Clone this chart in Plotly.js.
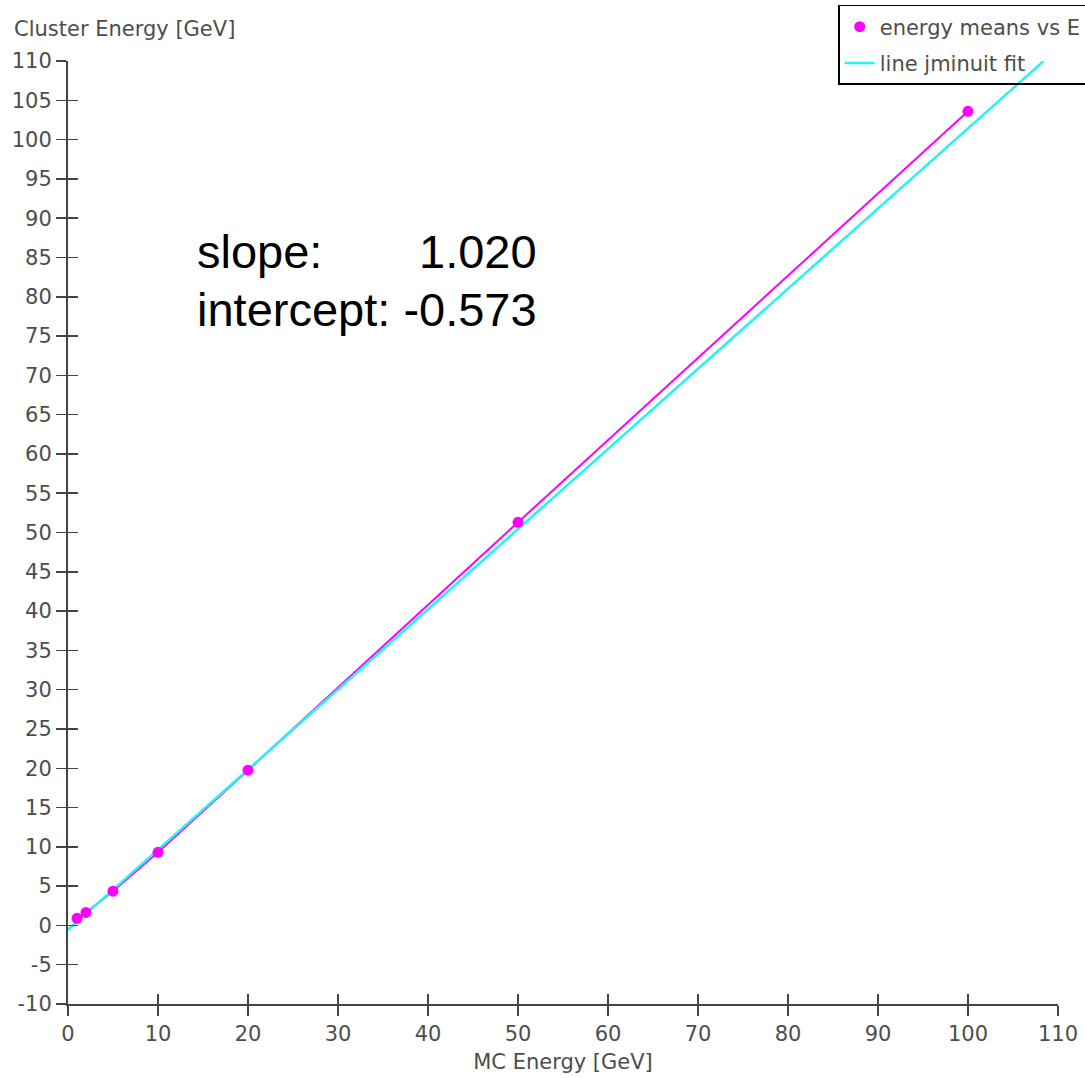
<!DOCTYPE html>
<html>
<head>
<meta charset="utf-8">
<script src="https://cdn.plot.ly/plotly-3.0.1.min.js"></script>
<style>html,body{margin:0;padding:0;background:#fff;}#chart{width:1085px;height:1078px;}</style>
</head>
<body>
<div id="chart"></div>
<script>
// Data
const mcEnergy = [1, 2, 5, 10, 20, 50, 100];
const clusterEnergy = [0.9, 1.65, 4.35, 9.3, 19.75, 51.3, 103.6];
const fitX = [0, 108.4];
const fitY = [-0.573, 110];
const xTicks = [0, 10, 20, 30, 40, 50, 60, 70, 80, 90, 100, 110];
const yTicks = [-10, -5, 0, 5, 10, 15, 20, 25, 30, 35, 40, 45, 50, 55, 60, 65, 70, 75, 80, 85, 90, 95, 100, 105, 110];
const slopeText = "1.020";
const interceptText = "-0.573";

const magenta = "#ff00ff";
const cyan = "#22f4f4";
const labelFont = {family: "DejaVu Sans", size: 21, color: "#4d4d4d"};
const bigFont = {family: "Liberation Sans, Arial", size: 47, color: "#000"};

const traces = [
  {x: mcEnergy, y: clusterEnergy, mode: "lines", line: {color: magenta, width: 2}, showlegend: false, hoverinfo: "skip"},
  {x: fitX, y: fitY, mode: "lines", name: "line jminuit fit", line: {color: cyan, width: 2.5}, legendgroup: "b", legendrank: 2},
  {x: mcEnergy, y: clusterEnergy, mode: "markers", name: "energy means vs E", marker: {color: magenta, size: 11}, legendgroup: "a", legendrank: 1, cliponaxis: false}
];

const axisCommon = {
  showgrid: false, zeroline: false, showline: true, linecolor: "#444", linewidth: 2,
  ticks: "outside", ticklen: 10, tickwidth: 1.5, tickcolor: "#444",
  tickfont: labelFont, tickmode: "array"
};

const layout = {
  width: 1085, height: 1078,
  margin: {l: 68, r: 27, t: 61, b: 74, autoexpand: false},
  paper_bgcolor: "#fff", plot_bgcolor: "#fff",
  font: labelFont,
  xaxis: Object.assign({}, axisCommon, {range: [0, 110], tickvals: xTicks, ticktext: xTicks.map(String),
    title: {text: "MC Energy [GeV]", font: labelFont, standoff: 9}}),
  yaxis: Object.assign({}, axisCommon, {range: [-10, 110], tickvals: yTicks, ticktext: yTicks.map(String)}),
  xaxis2: {overlaying: "x", matches: "x", range: [0, 110], showgrid: false, zeroline: false, showline: false,
    ticks: "inside", ticklen: 10, tickwidth: 1.5, tickcolor: "#444", showticklabels: false, tickmode: "array", tickvals: xTicks, side: "bottom", anchor: "y"},
  yaxis2: {overlaying: "y", matches: "y", range: [-10, 110], showgrid: false, zeroline: false, showline: false,
    ticks: "inside", ticklen: 10, tickwidth: 1.5, tickcolor: "#444", showticklabels: false, tickmode: "array", tickvals: yTicks, side: "left", anchor: "x"},
  legend: {x: 0.778, xanchor: "left", y: 1.0594, yanchor: "top", bgcolor: "rgba(255,255,255,0)", bordercolor: "#000", borderwidth: 1.5,
    font: labelFont, tracegroupgap: 6, traceorder: "grouped"},
  annotations: [
    {xref: "paper", yref: "paper", x: -0.057, y: 1.034, xanchor: "left", yanchor: "middle", text: "Cluster Energy [GeV]", showarrow: false, font: labelFont},
    {xref: "x", yref: "y", x: 14.1, y: 85.7, xanchor: "left", yanchor: "middle", text: "slope:", showarrow: false, font: bigFont},
    {xref: "x", yref: "y", x: 52.3, y: 85.7, xanchor: "right", yanchor: "middle", text: slopeText, showarrow: false, font: bigFont},
    {xref: "x", yref: "y", x: 14.1, y: 78.4, xanchor: "left", yanchor: "middle", text: "intercept: " + interceptText, showarrow: false, font: bigFont}
  ]
};

// dummy trace so the overlay axes (inner tick halves) are drawn
traces.push({x: [null], y: [null], xaxis: "x2", yaxis: "y2", showlegend: false, hoverinfo: "skip"});

Plotly.newPlot("chart", traces, layout, {displayModeBar: false, staticPlot: true});
</script>
</body>
</html>
